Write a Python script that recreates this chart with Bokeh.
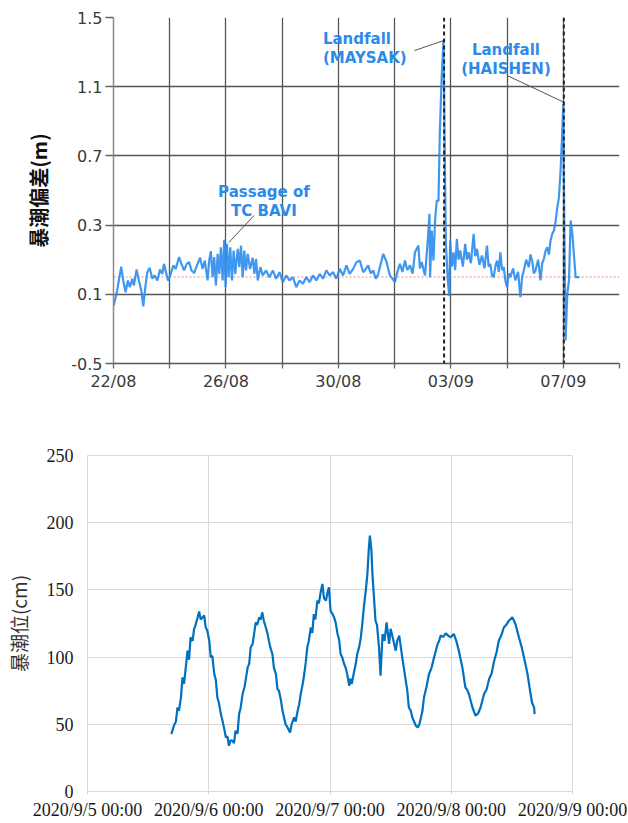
from bokeh.plotting import figure
from bokeh.models import Range1d, FixedTicker, Span, Label
from bokeh.embed import file_html
from bokeh.resources import INLINE

# ---------------- top panel: storm-surge deviation (m) ----------------
# days since 22/08 00:00
surge_day = [
    0.01, 0.13, 0.19, 0.275, 0.346, 0.429, 0.511, 0.582, 0.668, 0.725, 0.821, 0.904, 0.989,
    1.061, 1.132, 1.204, 1.286, 1.382, 1.464, 1.561, 1.654, 1.739, 1.796, 1.868, 1.939,
    2.036, 2.132, 2.214, 2.332, 2.418, 2.511, 2.607, 2.689, 2.775, 2.868, 2.989,
    3.082, 3.168, 3.25, 3.346, 3.404, 3.464, 3.525, 3.582, 3.643, 3.704, 3.761, 3.821, 3.882, 3.939, 3.989,
    4.036, 4.096, 4.154, 4.214, 4.275, 4.332, 4.418, 4.475, 4.536, 4.596, 4.654, 4.714, 4.775, 4.857, 4.954,
    5.011, 5.071, 5.132, 5.225, 5.311, 5.429, 5.546, 5.668, 5.786, 5.904,
    6.025, 6.143, 6.261, 6.382, 6.5, 6.618, 6.739, 6.857, 6.975,
    7.096, 7.214, 7.332, 7.454, 7.571, 7.689, 7.811, 7.929,
    8.046, 8.168, 8.286, 8.404, 8.525, 8.643, 8.761, 8.882, 8.939,
    9.061, 9.15, 9.239, 9.33, 9.418, 9.596, 9.714, 9.832,
    10.011, 10.1, 10.189, 10.28, 10.368, 10.45, 10.546, 10.64, 10.725, 10.846, 10.9, 10.964,
    11.082, 11.179, 11.239, 11.261, 11.321, 11.382, 11.439, 11.5, 11.561, 11.607, 11.679, 11.739,
    11.786, 11.821, 11.893, 11.946, 11.975,
    12.036, 12.096, 12.154, 12.214, 12.275, 12.332, 12.429, 12.511, 12.571, 12.632, 12.714, 12.811, 12.868, 12.929,
    13.018, 13.107, 13.196, 13.286, 13.346, 13.404, 13.464, 13.525, 13.582, 13.643, 13.704, 13.761, 13.821, 13.882, 13.939,
    14.0, 14.061, 14.118, 14.214, 14.296, 14.393, 14.475, 14.536, 14.596, 14.679, 14.775, 14.832, 14.893, 14.954,
    15.011, 15.107, 15.189, 15.25, 15.311, 15.368, 15.429, 15.489, 15.546, 15.607, 15.668, 15.725, 15.786, 15.846,
    15.904, 15.954, 16.0, 16.036, 16.082, 16.143, 16.204, 16.261, 16.321, 16.382, 16.439, 16.571,
]
surge_m = [
    -0.165, -0.078, -0.02, 0.06, -0.02, -0.088, -0.02, -0.059, -0.01, -0.049, 0.043, -0.02, -0.078,
    -0.17, -0.059, 0.028, 0.053, -0.01, 0.009, -0.02, 0.043, 0.018, 0.076, 0.028, -0.02,
    0.018, 0.067, 0.047, 0.115, 0.076, 0.038, 0.076, 0.086, 0.038, 0.023, 0.076,
    0.111, 0.047, 0.095, -0.02, 0.095, 0.149, -0.001, 0.115, -0.049, 0.134, 0.018, 0.172, -0.02, 0.215, -0.059,
    0.192, -0.001, 0.172, -0.02, 0.153, 0.018, 0.163, 0.057, 0.182, -0.001, 0.153, 0.038, 0.134, 0.047, 0.111,
    0.018, 0.105, -0.02, 0.057, 0.009, 0.038, -0.001, 0.038, -0.01, 0.028,
    -0.03, 0.009, -0.02, -0.001, -0.059, -0.02, -0.039, -0.001, -0.03,
    0.009, -0.02, 0.018, -0.01, 0.038, 0.009, 0.028, -0.01,
    0.047, 0.009, 0.067, 0.018, 0.047, 0.086, 0.095, 0.028, 0.038,
    0.067, 0.02, 0.038, -0.01, 0.018, 0.134, 0.086, 0.009,
    -0.03, 0.03, 0.076, 0.03, 0.095, 0.04, 0.067, 0.02, 0.143, 0.182, 0.05, 0.086,
    0.009, 0.211, 0.365, -0.001, 0.269, 0.095, 0.327, 0.442, 0.44, 0.83, 1.174, 1.367,
    0.71, 0.2, -0.02, -0.11, 0.211,
    0.06, 0.143, 0.04, 0.22, 0.1, 0.153, 0.06, 0.192, 0.1, 0.143, 0.08, 0.25, 0.12, 0.163,
    0.07, 0.124, 0.05, 0.182, 0.06, 0.076, 0.01, -0.001, 0.06, 0.095, 0.03, 0.143, 0.04, 0.057, -0.02,
    -0.059, 0.02, -0.001, 0.05, -0.02, 0.03, -0.117, 0.0, 0.038, 0.1, 0.057, 0.13, 0.095, 0.02,
    0.038, 0.1, -0.02, 0.08, 0.105, 0.15, 0.172, 0.13, 0.21, 0.25, 0.269, 0.32, 0.40, 0.46,
    0.616, 0.8, 1.0, 0.33, -0.367, -0.097, -0.02, 0.327, 0.25, 0.124, -0.001, -0.001,
]
top_x_ticks = [0, 2, 4, 6, 8, 10, 12, 14, 16, 18]
top_x_labels = ["22/08", "", "26/08", "", "30/08", "", "03/09", "", "07/09", ""]
top_y_ticks = [-0.5, -0.1, 0.3, 0.7, 1.1, 1.5]
top_y_labels = ["-0.5", "0.1", "0.3", "0.7", "1.1", "1.5"]
landfall_day = [11.76, 16.02]
mean_level = 0.0

# annotations: text lines (x, y, text, align) and leader lines
ann_text = [
    (5.35, 0.494, "Passage of", "center"),
    (5.35, 0.379, "TC BAVI", "center"),
    (7.45, 1.376, "Landfall", "left"),
    (7.45, 1.268, "(MAYSAK)", "left"),
    (13.96, 1.315, "Landfall", "center"),
    (13.96, 1.202, "(HAISHEN)", "center"),
]
leader_x0 = [5.0, 10.71, 14.0]
leader_y0 = [0.356, 1.309, 1.165]
leader_x1 = [4.107, 11.75, 16.036]
leader_y1 = [0.2, 1.367, 1.009]

# ---------------- bottom panel: tide level (cm) ----------------
# hours since 2020/9/5 00:00
tide_hour = [
    16.6, 17.1, 17.5, 17.8, 18.1, 18.5, 18.8, 19.1, 19.6, 19.8, 20.1, 20.4, 20.8, 21.1, 21.4, 21.8,
    22.1, 22.4, 22.8, 23.1, 23.4, 23.7, 24.1, 24.4, 24.7, 25.1, 25.4, 25.7, 26.0, 26.4, 26.7, 27.0,
    27.4, 27.7, 28.0, 28.3, 28.7, 29.0, 29.3, 29.7, 30.0, 30.3, 30.7, 31.1, 31.7, 32.0, 32.3, 32.7,
    33.0, 33.3, 33.6, 34.0, 34.3, 34.6, 34.9, 35.3, 35.6, 35.9, 36.2, 36.6, 36.9, 37.3, 37.6, 37.9,
    38.3, 38.6, 38.9, 39.2, 39.6, 40.1, 40.4, 40.9, 41.2, 41.6, 41.9, 42.2, 42.6, 42.9, 43.2, 43.5,
    43.8, 44.2, 44.5, 44.8, 45.1, 45.5, 45.8, 46.2, 46.5, 46.8, 47.2, 47.5, 47.8, 48.1, 48.5, 48.8,
    49.1, 49.5, 49.8, 50.1, 50.4, 50.8, 51.1, 51.4, 51.8, 52.0, 52.3, 52.8, 53.1, 53.4, 53.8, 54.1,
    54.4, 54.7, 55.1, 55.4, 55.7, 55.9, 56.2, 56.4, 56.7, 57.0, 57.3, 57.7, 58.0, 58.4, 58.8, 59.2,
    59.7, 60.0, 60.4, 60.7, 61.0, 61.3, 61.7, 62.0, 62.3, 63.0, 63.3, 63.6, 64.0, 64.3, 65.0, 65.4,
    65.7, 66.0, 66.3, 66.6, 67.1, 67.6, 68.1, 68.6, 68.9, 69.3, 69.6, 69.9, 70.4, 70.9, 71.4, 71.9,
    72.2, 72.5, 73.0, 73.5, 74.2, 74.8, 75.1, 75.5, 76.2, 76.8, 77.3, 77.8, 78.5, 79.0, 79.5, 80.0,
    80.5, 81.0, 81.4, 81.9, 82.4, 82.9, 83.4, 84.1, 84.7, 85.4, 85.9, 86.4, 87.1, 87.7, 88.0, 88.4, 88.5,
]
tide_cm = [
    42.7, 48.9, 52, 62.5, 60, 70, 84.9, 80, 97.3, 104.8, 98, 114.7, 112, 120.9, 124, 129.6,
    134, 128, 129.6, 131, 122, 120, 112.2, 99.8, 101, 87.4, 83, 70, 66, 57.6, 53, 47.7,
    40.2, 41, 34, 38, 37.7, 36, 45.2, 43, 57.6, 62, 72.5, 78, 92.3, 95, 107.2, 110,
    118, 125.8, 124, 129.6, 128, 133.3, 127, 122, 118, 112.2, 107, 102.3, 92, 87.4, 76.2, 75,
    67.5, 60, 55.1, 50, 47.7, 43.9, 50, 55.1, 52, 60.1, 65, 72.5, 80, 87.4, 96, 107.2,
    112, 122, 118, 132, 128, 142, 140, 149.4, 154.4, 144, 142, 148, 151.9, 134.5, 132, 129.6,
    126, 117.2, 113, 102.3, 100, 94.9, 92, 87.4, 78.7, 84, 80, 89.9, 95, 102.3, 108, 114.7,
    125, 137, 150, 161.9, 181.7, 190.4, 179.2, 161.9, 144.5, 127.1, 124, 107.2, 86.2, 117.2, 112, 125.8,
    109.8, 121, 114.7, 110, 104.8, 112, 116, 108, 99.8, 82.4, 75, 62.5, 60, 55.1, 48.9, 47.7,
    50, 55.1, 60, 70, 78, 87.4, 92, 99.8, 104, 109.8, 112, 116, 115, 117.7, 116, 114.7,
    116, 117.2, 112, 104.8, 92.3, 77.4, 76, 72.5, 62.5, 56.4, 58, 62.5, 72.5, 76, 83.7, 88,
    97.3, 104, 112.2, 116, 122, 124, 127.1, 129.6, 124.6, 114.7, 108, 99.8, 87.4, 72.5, 66, 62.5, 57.6,
]
bot_x_ticks = [0, 24, 48, 72, 96]
bot_x_labels = ["2020/9/5 00:00", "2020/9/6 00:00", "2020/9/7 00:00", "2020/9/8 00:00", "2020/9/9 00:00"]
bot_y_ticks = [0, 50, 100, 150, 200, 250]

# ================= build top figure =================
TOP_FONT = "DejaVu Sans"
p1 = figure(frame_width=506, frame_height=346, min_border_left=113, min_border_right=9,
            min_border_top=17, min_border_bottom=37,
            x_range=Range1d(0, 18), y_range=Range1d(-0.5, 1.5),
            output_backend="svg", toolbar_location=None, title=None)
p1.background_fill_color = "white"
p1.border_fill_color = "white"
p1.outline_line_color = None

p1.xaxis.ticker = FixedTicker(ticks=top_x_ticks)
p1.yaxis.ticker = FixedTicker(ticks=top_y_ticks)
p1.xaxis.major_label_overrides = {t: l for t, l in zip(top_x_ticks, top_x_labels)}
p1.yaxis.major_label_overrides = {t: l for t, l in zip(top_y_ticks, top_y_labels)}
for ax in (p1.xaxis[0], p1.yaxis[0]):
    ax.major_label_text_font = TOP_FONT
    ax.major_label_text_font_size = "16px"
    ax.major_label_text_color = "#3a3a3a"
    ax.minor_tick_line_color = None
    ax.major_tick_in = 0
    ax.major_tick_line_color = "#666666"
    ax.major_tick_line_width = 1.3
p1.xaxis.major_tick_out = 5
p1.yaxis.major_tick_out = 8
p1.xaxis.major_label_standoff = 3
p1.yaxis.major_label_standoff = 3
p1.xaxis.axis_line_color = "#555555"
p1.xaxis.axis_line_width = 1.5
p1.yaxis.axis_line_color = "#8a8a8a"
p1.yaxis.axis_line_width = 1.5
p1.yaxis.axis_label = "暴潮偏差(m)"
p1.yaxis.axis_label_text_font = "Noto Sans CJK SC"
p1.yaxis.axis_label_text_font_style = "bold"
p1.yaxis.axis_label_text_font_size = "20px"
p1.yaxis.axis_label_text_color = "#111111"
p1.yaxis.axis_label_standoff = 15

p1.grid.grid_line_color = "#555555"
p1.grid.grid_line_width = 1.3

p1.add_layout(Span(location=mean_level, dimension="width", line_color="#f08a8a",
                   line_dash="2 2", line_width=1.2, level="underlay"))

p1.line(surge_day, surge_m, line_color="#2b8cee", line_width=2.2, line_alpha=0.9)

for d in landfall_day:
    p1.add_layout(Span(location=d, dimension="height", line_color="#222222",
                       line_dash="4 3", line_width=2))

p1.segment(x0=leader_x0, y0=leader_y0, x1=leader_x1, y1=leader_y1,
           line_color="#555555", line_width=1)

for (x, y, t, al) in ann_text:
    p1.add_layout(Label(x=x, y=y, text=t, text_align=al, text_baseline="middle",
                        text_font=TOP_FONT, text_font_style="bold",
                        text_font_size="15px", text_color="#2e8ae8"))

# ================= build bottom figure =================
BOT_FONT = "Liberation Serif"
p2 = figure(frame_width=485, frame_height=336, min_border_left=87, min_border_right=56,
            min_border_top=55, min_border_bottom=32,
            x_range=Range1d(0, 96), y_range=Range1d(0, 250),
            output_backend="svg", toolbar_location=None, title=None)
p2.background_fill_color = "white"
p2.border_fill_color = "white"
p2.outline_line_color = "#d9d9d9"

p2.xaxis.ticker = FixedTicker(ticks=bot_x_ticks)
p2.yaxis.ticker = FixedTicker(ticks=bot_y_ticks)
p2.xaxis.major_label_overrides = {t: l for t, l in zip(bot_x_ticks, bot_x_labels)}
for ax in (p2.xaxis[0], p2.yaxis[0]):
    ax.major_label_text_font = BOT_FONT
    ax.major_label_text_font_size = "18px"
    ax.major_label_text_color = "#1a1a1a"
    ax.minor_tick_line_color = None
    ax.major_tick_in = 0
p2.xaxis.major_tick_out = 3
p2.xaxis.major_tick_line_color = "#d9d9d9"
p2.xaxis.axis_line_color = "#d9d9d9"
p2.xaxis.major_label_standoff = 5
p2.yaxis.major_tick_out = 0
p2.yaxis.major_tick_line_color = None
p2.yaxis.axis_line_color = "#d9d9d9"
p2.yaxis.major_label_standoff = 14
p2.yaxis.axis_label = "暴潮位(cm)"
p2.yaxis.axis_label_text_font = "Noto Sans CJK SC"
p2.yaxis.axis_label_text_font_style = "normal"
p2.yaxis.axis_label_text_font_size = "19px"
p2.yaxis.axis_label_text_color = "#333333"
p2.yaxis.axis_label_standoff = 12

p2.grid.grid_line_color = "#d9d9d9"
p2.grid.grid_line_width = 1

p2.line(tide_hour, tide_cm, line_color="#0070c0", line_width=2.2)

open("out.html", "w").write(file_html([p1, p2], INLINE))
